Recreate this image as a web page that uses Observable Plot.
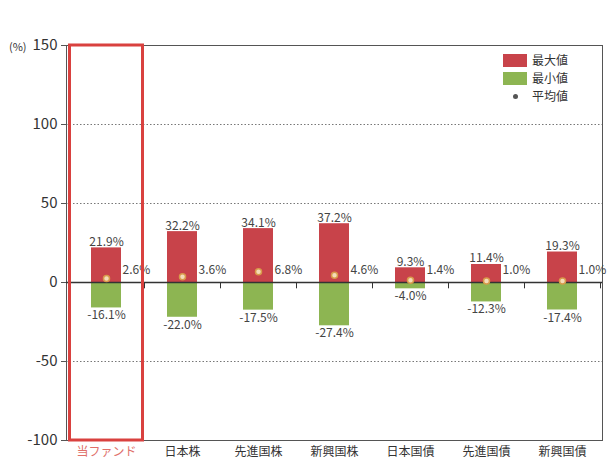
<!DOCTYPE html>
<html><head><meta charset="utf-8">
<script src="https://cdn.jsdelivr.net/npm/d3@7"></script>
<script src="https://cdn.jsdelivr.net/npm/@observablehq/plot@0.6"></script>
<style>
html,body{margin:0;padding:0;background:#fff;}
#wrap{position:relative;width:608px;height:466px;font-family:"Noto Sans CJK JP","Noto Sans",sans-serif;}
#unit{position:absolute;left:9px;top:38px;font-size:11px;color:#333;}
#legend{position:absolute;left:503px;top:51px;font-size:12px;color:#333;line-height:18px;}
#legend div{display:flex;align-items:center;gap:5px;}
#legend .sw{width:24px;height:13px;display:inline-block;}
#legend .dt{width:24px;height:13px;display:inline-flex;align-items:center;justify-content:center;}
#legend .dt span{width:5px;height:5px;border-radius:50%;background:#555;display:inline-block;}
</style></head>
<body>
<div id="wrap">
<div id="chart"></div>
<div id="unit">(%)</div>
<div id="legend">
<div><span class="sw" style="background:#c8434a"></span>最大値</div>
<div><span class="sw" style="background:#8db552"></span>最小値</div>
<div><span class="dt"><span></span></span>平均値</div>
</div>
</div>
<script>
const categories = ["当ファンド","日本株","先進国株","新興国株","日本国債","先進国債","新興国債"];
const maxValues = [21.9, 32.2, 34.1, 37.2, 9.3, 11.4, 19.3];
const minValues = [-16.1, -22.0, -17.5, -27.4, -4.0, -12.3, -17.4];
const meanValues = [2.6, 3.6, 6.8, 4.6, 1.4, 1.0, 1.0];
const yTicks = [-100, -50, 0, 50, 100, 150];
const gridTicks = [-50, 50, 100];
const highlight = ["当ファンド"];

const data = categories.map((c, i) => ({cat: c, max: maxValues[i], min: minValues[i], mean: meanValues[i]}));
const fmt = v => v.toFixed(1) + "%";

const chart = Plot.plot({
  width: 608,
  height: 466,
  marginTop: 45,
  marginBottom: 26,
  marginLeft: 66,
  marginRight: 6,
  style: {fontFamily: "'Noto Sans CJK JP','Noto Sans',sans-serif", color: "#333", background: "#fff"},
  x: {domain: categories, padding: 0, label: null},
  y: {domain: [-100, 150], label: null},
  marks: [
    Plot.ruleY(gridTicks, {stroke: "#777", strokeDasharray: "1.5,2", strokeWidth: 1}),
    Plot.frame({stroke: "#555", strokeWidth: 1}),
    Plot.barY(data, {x: "cat", y1: 0, y2: "max", fill: "#c8434a", insetLeft: 23, insetRight: 23}),
    Plot.barY(data, {x: "cat", y1: 0, y2: "min", fill: "#8db552", insetLeft: 23, insetRight: 23}),
    Plot.ruleY([0], {stroke: "#333", strokeWidth: 1.5}),
    Plot.ruleX(categories, {x: d => d, dx: 38, y1: 0, y2: -4, stroke: "#333"}),
    Plot.dot(data, {x: "cat", y: "mean", r: 3, stroke: "#d89a4a", strokeWidth: 1.5, fill: "#f4dcb8"}),
    Plot.text(data, {x: "cat", y: "max", text: d => fmt(d.max), lineAnchor: "bottom", dy: -2, fontSize: 12, fill: "#444"}),
    Plot.text(data, {x: "cat", y: "min", text: d => fmt(d.min), lineAnchor: "top", dy: 3, fontSize: 12, fill: "#444"}),
    Plot.text(data, {x: "cat", y: 0, text: d => fmt(d.mean), textAnchor: "start", dx: 16, dy: -12, fontSize: 12, fill: "#444"}),
    Plot.barY(highlight, {x: d => d, y1: -100, y2: 150, fill: "none", stroke: "#d9413f", strokeWidth: 3, insetLeft: 1.5, insetRight: 1.5}),
    Plot.axisY({ticks: yTicks, tickFormat: d => String(d), tickSize: 5, tickPadding: 4, fontSize: 15, fill: "#333", stroke: "#555"}),
    Plot.axisX({tickSize: 0, tickPadding: 7, fontSize: 12, fill: d => d === "当ファンド" ? "#e0706a" : "#333"})
  ]
});
document.getElementById("chart").appendChild(chart);
</script>
</body></html>
